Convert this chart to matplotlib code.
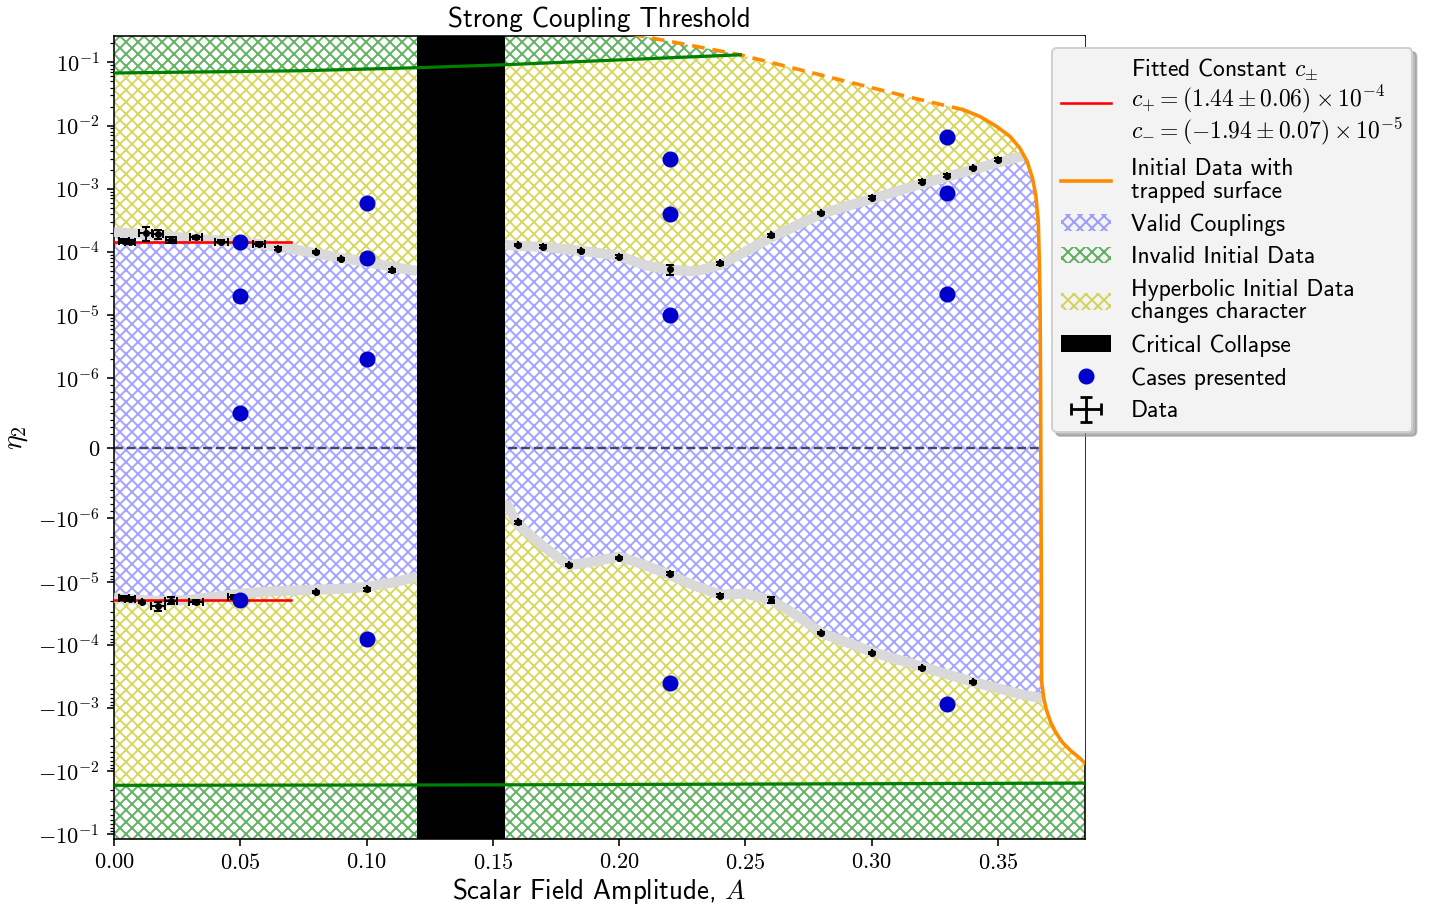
import numpy as np
import matplotlib
matplotlib.use("Agg")
import matplotlib.pyplot as plt
import matplotlib.patches as mpatches
from matplotlib.lines import Line2D
from matplotlib.legend_handler import HandlerErrorbar
from matplotlib.ticker import FixedLocator, FuncFormatter, NullLocator

plt.rcParams["font.family"] = ["cmss10", "DejaVu Sans"]
plt.rcParams["mathtext.fontset"] = "cm"
plt.rcParams["axes.unicode_minus"] = False
plt.rcParams["hatch.linewidth"] = 1.0

# ---------------- data ----------------
# simulation data, upper threshold (eta_2 > 0)
up_A = [0.004, 0.0065, 0.0125, 0.0175, 0.0225, 0.0325, 0.0425, 0.0575, 0.065, 0.08, 0.09, 0.10, 0.11,
        0.16, 0.17, 0.185, 0.20, 0.22, 0.24, 0.26, 0.28, 0.30, 0.32, 0.33, 0.34, 0.35]
up_eta = [1.50e-4, 1.44e-4, 1.98e-4, 1.91e-4, 1.55e-4, 1.69e-4, 1.44e-4, 1.34e-4, 1.13e-4, 1.00e-4, 7.7e-5, 6.8e-5, 5.1e-5,
          1.29e-4, 1.21e-4, 1.03e-4, 8.4e-5, 5.3e-5, 6.6e-5, 1.84e-4, 4.15e-4, 7.2e-4, 1.29e-3, 1.60e-3, 2.14e-3, 2.87e-3]
up_dA = [0.002, 0.002, 0.0025, 0.002, 0.002, 0.0023, 0.0025, 0.0023, 0, 0, 0, 0, 0,
         0, 0, 0, 0, 0, 0, 0, 0, 0, 0, 0, 0, 0]
up_deta = [1.0e-5, 1.2e-5, 5e-5, 3e-5, 1.8e-5, 1.2e-5, 8e-6, 8e-6, 6e-6, 5e-6, 4e-6, 4e-6, 3e-6,
           6e-6, 6e-6, 5e-6, 4e-6, 1e-5, 3e-6, 9e-6, 2e-5, 3.5e-5, 6e-5, 8e-5, 1e-4, 1.4e-4]

# simulation data, lower threshold (eta_2 < 0)
low_A = [0.004, 0.0065, 0.011, 0.0175, 0.0225, 0.0325, 0.0475, 0.08, 0.10,
         0.16, 0.18, 0.20, 0.22, 0.24, 0.26, 0.28, 0.30, 0.32, 0.34]
low_eta = [-1.82e-5, -1.87e-5, -2.10e-5, -2.47e-5, -1.99e-5, -2.10e-5, -1.75e-5, -1.46e-5, -1.33e-5,
           -1.15e-6, -5.46e-6, -4.23e-6, -7.5e-6, -1.67e-5, -1.94e-5, -6.53e-5, -1.34e-4, -2.32e-4, -3.9e-4]
low_dA = [0.002, 0.002, 0, 0.0027, 0.0023, 0.0027, 0.0022, 0, 0,
          0, 0, 0, 0, 0, 0, 0, 0, 0, 0]
low_deta = [1.5e-6, 1.5e-6, 1e-6, 4e-6, 2.5e-6, 1.5e-6, 1e-6, 7e-7, 7e-7,
            6e-8, 2.5e-7, 2e-7, 3.5e-7, 8e-7, 2e-6, 3e-6, 6e-6, 1e-5, 1.8e-5]

# smoothed threshold bands (grey)
band_left_A = [0.0, 0.01, 0.02, 0.03, 0.04, 0.05, 0.06, 0.07, 0.08, 0.09, 0.10, 0.11, 0.12]
band_up_left = [2.07e-4, 1.93e-4, 1.79e-4, 1.64e-4, 1.52e-4, 1.44e-4, 1.29e-4, 1.12e-4, 9.5e-5, 8.0e-5, 6.95e-5, 5.8e-5, 5.0e-5]
band_low_left = [-1.80e-5, -1.94e-5, -2.05e-5, -1.94e-5, -1.73e-5, -1.55e-5, -1.44e-5, -1.39e-5, -1.34e-5, -1.30e-5, -1.21e-5, -1.04e-5, -8.4e-6]

band_up_right_A = [0.155, 0.16, 0.17, 0.185, 0.20, 0.21, 0.22, 0.23, 0.24, 0.25, 0.26, 0.27, 0.28, 0.30, 0.32, 0.34, 0.35, 0.36, 0.37]
band_up_right = [1.29e-4, 1.24e-4, 1.20e-4, 1.04e-4, 8.65e-5, 6.2e-5, 5.2e-5, 4.9e-5, 6.2e-5, 1.01e-4, 1.67e-4, 2.58e-4, 4.0e-4,
                 6.9e-4, 1.2e-3, 2.0e-3, 2.6e-3, 3.3e-3, 4.3e-3]
band_low_right_A = [0.155, 0.16, 0.17, 0.18, 0.19, 0.20, 0.21, 0.22, 0.23, 0.24, 0.25, 0.26, 0.27, 0.28, 0.30, 0.32, 0.34, 0.36, 0.37]
band_low_right = [-7.6e-7, -1.25e-6, -2.76e-6, -5.5e-6, -4.8e-6, -4.0e-6, -5.4e-6, -7.8e-6, -1.16e-5, -1.61e-5, -1.55e-5,
                  -1.94e-5, -3.35e-5, -6.45e-5, -1.29e-4, -2.23e-4, -3.86e-4, -6.2e-4, -7.3e-4]

# fitted constants
c_plus = 1.44e-4
c_minus = -1.94e-5
fit_A = [0.0, 0.07]

# invalid initial data boundaries (green)
green_top_A = [0.0, 0.074, 0.12, 0.155, 0.208, 0.248]
green_top = [0.068, 0.0738, 0.0824, 0.092, 0.113, 0.132]
green_bot_A = [0.0, 0.12, 0.155, 0.3845]
green_bot = [-0.0168, -0.0166, -0.0165, -0.0155]

# trapped surface boundary (orange); first part (up to orange_dash_end) dashed
orange_A = [0.205, 0.2478, 0.2874, 0.3139, 0.3363, 0.3429, 0.3495, 0.3548, 0.3587, 0.3616, 0.3637,
            0.3650, 0.3660, 0.3664, 0.3667, 0.3669, 0.3670, 0.3671, 0.3672, 0.3673, 0.3682, 0.3691,
            0.3709, 0.3729, 0.3756, 0.3790, 0.3823, 0.3856]
orange_eta = [0.28, 0.1324, 0.0532, 0.0289, 0.0178, 0.01393, 9.68e-3, 6.72e-3, 4.40e-3, 2.70e-3, 1.47e-3,
              8.0e-4, 3.02e-4, 7.46e-5, 1.74e-5, 1e-6, 0.0, -1e-6, -9.3e-6, -3.82e-4, -7.06e-4, -1.03e-3,
              -1.69e-3, -2.44e-3, -3.53e-3, -4.82e-3, -6.18e-3, -8.2e-3]
orange_dash_end = 4

# critical collapse band
collapse_A = [0.12, 0.155]

# cases presented
case_A = [0.05, 0.05, 0.05, 0.05, 0.10, 0.10, 0.10, 0.10, 0.22, 0.22, 0.22, 0.22, 0.33, 0.33, 0.33, 0.33]
case_eta = [1.44e-4, 2e-5, 5e-7, -1.94e-5, 6e-4, 8e-5, 2e-6, -8e-5, 3e-3, 4e-4, 1e-5, -4e-4, 6.6e-3, 8.6e-4, 2.15e-5, -8.6e-4]

x_ticks = [0.0, 0.05, 0.10, 0.15, 0.20, 0.25, 0.30, 0.35]
y_exps = [1, 2, 3, 4, 5, 6]

# ---------------- figure ----------------
fig = plt.figure(figsize=(10, 909 / 144), dpi=144)
ax = fig.add_axes([114 / 1440, 1 - 839 / 909, (1085 - 114) / 1440, (839 - 36) / 909])
ax.set_yscale("symlog", linthresh=1e-6, linscale=1)
XMAX = 0.3845
ax.set_xlim(0, XMAX)
ax.set_ylim(-0.119, 0.262)

c_green = (0.0, 0.5, 0.0, 0.6)
c_yellow = (0.75, 0.75, 0.0, 0.6)
c_blue = (0.0, 0.0, 1.0, 0.35)
HATCH = "xxxx"
FAR = 10.0

# green hatched: invalid initial data
ax.fill_between(green_top_A, green_top, FAR, facecolor="white", edgecolor=c_green, hatch=HATCH, lw=0, zorder=1)
ax.fill_between(green_bot_A, -FAR, green_bot, facecolor="white", edgecolor=c_green, hatch=HATCH, lw=0, zorder=1)

# yellow hatched: between green boundaries
yx = list(green_top_A) + [XMAX, XMAX] + list(green_bot_A[::-1])
yy = list(green_top) + [FAR, green_bot[-1]] + list(green_bot[::-1])
ax.fill(yx, yy, facecolor="white", edgecolor=c_yellow, hatch=HATCH, lw=0, zorder=1)

# blue hatched: valid couplings
ax.fill(list(band_left_A) + list(band_left_A[::-1]), list(band_up_left) + list(band_low_left[::-1]),
        facecolor="white", edgecolor=c_blue, hatch=HATCH, lw=0, zorder=2)
ax.fill(list(band_up_right_A) + list(band_low_right_A[::-1]), list(band_up_right) + list(band_low_right[::-1]),
        facecolor="white", edgecolor=c_blue, hatch=HATCH, lw=0, zorder=2)

# zero line
ax.axhline(0, color="#45456a", ls="--", lw=1.2, zorder=2.5)

# grey bands
band_kw = dict(color="#d9d9d9", lw=5, solid_capstyle="butt", solid_joinstyle="round", zorder=3)
ax.plot(band_left_A, band_up_left, **band_kw)
ax.plot(band_left_A, band_low_left, **band_kw)
ax.plot(band_up_right_A, band_up_right, **band_kw)
ax.plot(band_low_right_A, band_low_right, **band_kw)

# white mask beyond trapped-surface boundary
mx = list(orange_A) + [1.0, 1.0, orange_A[0]]
my = list(orange_eta) + [orange_eta[-1], FAR, FAR]
ax.fill(mx, my, facecolor="white", edgecolor="none", lw=0, zorder=3.5)

# critical collapse
ax.axvspan(collapse_A[0], collapse_A[1], color="black", lw=0, zorder=4)

# fitted constants
ax.plot(fit_A, [c_plus, c_plus], color="red", lw=1.3, zorder=5)
ax.plot(fit_A, [c_minus, c_minus], color="red", lw=1.3, zorder=5)

# data
eb_kw = dict(fmt="o", color="black", ms=2.5, capsize=2, elinewidth=1, capthick=1, zorder=6)
ax.errorbar(up_A, up_eta, xerr=up_dA, yerr=up_deta, **eb_kw)
ax.errorbar(low_A, low_eta, xerr=low_dA, yerr=low_deta, **eb_kw)
eb_leg = ax.errorbar([np.nan], [np.nan], xerr=[0.01], yerr=[1e-5], fmt="none", ecolor="black",
                     elinewidth=1.4, capsize=3, capthick=1.4)

# cases
ax.plot(case_A, case_eta, "o", color="#0000cd", ms=7, lw=0, zorder=7)

# trapped surface
ax.plot(orange_A[:orange_dash_end + 1], orange_eta[:orange_dash_end + 1], color="darkorange", lw=1.8,
        ls=(0, (3.5, 2.2)), zorder=8)
ax.plot(orange_A[orange_dash_end:], orange_eta[orange_dash_end:], color="darkorange", lw=1.8, zorder=8,
        solid_joinstyle="round")

# green boundaries
ax.plot(green_top_A, green_top, color="green", lw=1.6, zorder=8)
ax.plot(green_bot_A, green_bot, color="green", lw=1.6, zorder=8)

# ticks
ax.xaxis.set_major_locator(FixedLocator(x_ticks))
ax.xaxis.set_major_formatter(FuncFormatter(lambda v, p: "$%.2f$" % v))
ax.xaxis.set_minor_locator(NullLocator())

yt = [-10.0 ** (-e) for e in y_exps] + [0.0] + [10.0 ** (-e) for e in y_exps]
ax.yaxis.set_major_locator(FixedLocator(yt))


def yfmt(v, p):
    if v == 0:
        return "$0$"
    e = int(round(np.log10(abs(v))))
    return ("$-10^{%d}$" % e) if v < 0 else ("$10^{%d}$" % e)


ax.yaxis.set_major_formatter(FuncFormatter(yfmt))
minor = []
for s in (1, -1):
    for e in range(-7, 0):
        for m in range(2, 10):
            minor.append(s * m * 10.0 ** e)
ax.yaxis.set_minor_locator(FixedLocator(minor))
ax.tick_params(axis="both", which="major", labelsize=11.2)

ax.set_title("Strong Coupling Threshold", fontsize=13.5, pad=4.5)
ax.set_xlabel("Scalar Field Amplitude, $A$", fontsize=13.5, labelpad=1.5)
ax.set_ylabel(r"$\eta_2$", fontsize=14)

# legend
handles = [
    Line2D([], [], color="red", lw=1.3),
    Line2D([], [], color="darkorange", lw=1.8),
    mpatches.Patch(facecolor="none", edgecolor=c_blue, hatch=HATCH, lw=0),
    mpatches.Patch(facecolor="none", edgecolor=c_green, hatch=HATCH, lw=0),
    mpatches.Patch(facecolor="none", edgecolor=c_yellow, hatch=HATCH, lw=0),
    mpatches.Patch(facecolor="black", edgecolor="black", lw=0),
    Line2D([], [], marker="o", color="#0000cd", ms=7, lw=0),
    eb_leg,
]
labels = [
    "Fitted Constant $c_{\\pm}$\n$c_{+} = (1.44 \\pm 0.06)\\times 10^{-4}$\n$c_{-} = (-1.94 \\pm 0.07)\\times 10^{-5}$",
    "Initial Data with\ntrapped surface",
    "Valid Couplings",
    "Invalid Initial Data",
    "Hyperbolic Initial Data\nchanges character",
    "Critical Collapse",
    "Cases presented",
    "Data",
]
leg = ax.legend(handles, labels, loc="upper left", bbox_to_anchor=(1052 / 1440, 1 - 48 / 909),
                bbox_transform=fig.transFigure, fontsize=11.8, frameon=True, fancybox=True,
                shadow={"color": "0.55", "alpha": 0.6},
                facecolor="#f3f3f3", edgecolor="#d0d0d0", framealpha=1, borderaxespad=0,
                handlelength=2.1, handletextpad=0.85, labelspacing=0.45,
                handler_map={eb_leg: HandlerErrorbar(xerr_size=0.64, yerr_size=0.53)})
for t in leg.get_texts():
    t.set_linespacing(1.03)
leg.set_zorder(20)

fig.savefig("out.png", dpi=144)
